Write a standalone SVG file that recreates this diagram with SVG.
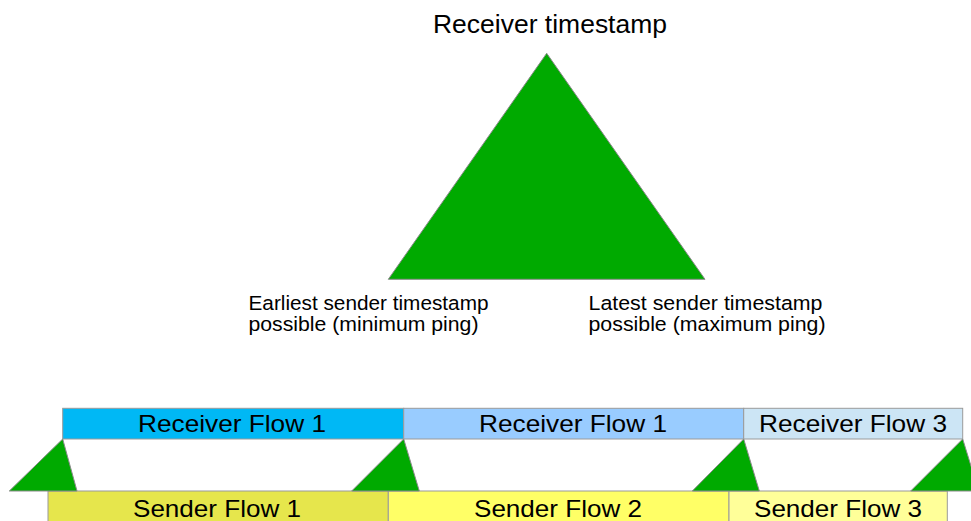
<svg xmlns="http://www.w3.org/2000/svg" width="971" height="521" viewBox="0 0 971 521">
<style>
text{font-family:"Liberation Sans",Arial,sans-serif;fill:#000}
.tri{fill:#00aa00;stroke:#8a8a8a;stroke-width:1}
.box{stroke:#9a9a9a;stroke-width:1}
.lbl{font-size:24px;text-anchor:middle}
.note{font-size:20.5px}
</style>
<rect width="971" height="521" fill="#fff"/>
<g id="receiver-timestamp">
<polygon class="tri" points="546.7,53.3 388.3,279.3 705,279.3"/>
<text x="550" y="32.5" font-size="25.5" text-anchor="middle" textLength="234" lengthAdjust="spacingAndGlyphs">Receiver timestamp</text>
</g>
<g id="earliest-label">
<text class="note" x="248.5" y="310"><tspan textLength="240" lengthAdjust="spacingAndGlyphs">Earliest sender timestamp</tspan></text>
<text class="note" x="248.5" y="331"><tspan textLength="230" lengthAdjust="spacingAndGlyphs">possible (minimum ping)</tspan></text>
</g>
<g id="latest-label">
<text class="note" x="588.5" y="310"><tspan textLength="234" lengthAdjust="spacingAndGlyphs">Latest sender timestamp</tspan></text>
<text class="note" x="588.5" y="331"><tspan textLength="237" lengthAdjust="spacingAndGlyphs">possible (maximum ping)</tspan></text>
</g>
<g id="sender-flow-1">
<rect class="box" x="48" y="491" width="340.3" height="40" fill="#e6e64c"/>
<text class="lbl" x="217" y="517" textLength="168" lengthAdjust="spacingAndGlyphs">Sender Flow 1</text>
</g>
<g id="sender-flow-2">
<rect class="box" x="388.3" y="491" width="340.7" height="40" fill="#ffff66"/>
<text class="lbl" x="558" y="517" textLength="168" lengthAdjust="spacingAndGlyphs">Sender Flow 2</text>
</g>
<g id="sender-flow-3">
<rect class="box" x="729" y="491" width="218.3" height="40" fill="#ffff99"/>
<text class="lbl" x="838" y="517" textLength="168" lengthAdjust="spacingAndGlyphs">Sender Flow 3</text>
</g>
<g id="receiver-flow-1a">
<rect class="box" x="62.7" y="408.3" width="341" height="30.7" fill="#00b8f5"/>
<text class="lbl" x="232" y="432" textLength="188" lengthAdjust="spacingAndGlyphs">Receiver Flow 1</text>
</g>
<g id="receiver-flow-1b">
<rect class="box" x="403.7" y="408.3" width="340" height="30.7" fill="#99ccff"/>
<text class="lbl" x="573" y="432" textLength="188" lengthAdjust="spacingAndGlyphs">Receiver Flow 1</text>
</g>
<g id="receiver-flow-3">
<rect class="box" x="743.7" y="408.3" width="219" height="30.7" fill="#cce5f5"/>
<text class="lbl" x="853" y="432" textLength="188" lengthAdjust="spacingAndGlyphs">Receiver Flow 3</text>
</g>
<g id="connectors">
<polygon class="tri" points="62.7,439 9.3,491 77,491"/>
<polygon class="tri" points="403.7,439 351.7,491 419.3,491"/>
<polygon class="tri" points="743.7,439 692.3,491 759.3,491"/>
<polygon class="tri" points="962.7,439 910.7,491 978.7,491"/>
</g>
</svg>
